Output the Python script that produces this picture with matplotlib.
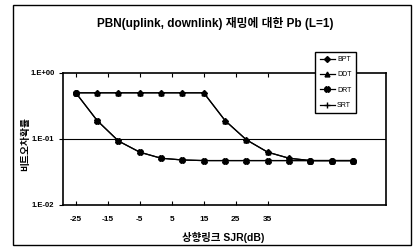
import numpy as np
import matplotlib.pyplot as plt
from matplotlib.patches import Rectangle

plt.rcParams['font.family'] = ['Liberation Sans Narrow', 'Liberation Sans', 'Noto Sans CJK KR']

# 상향링크 SJR (dB) 값과 각 방식의 비트오차확률
sjr = [-25, -20, -15, -10, -5, 0, 5, 10, 15, 20, 25, 30, 35, 40]
bpt = [0.5, 0.5, 0.5, 0.5, 0.5, 0.5, 0.5, 0.19, 0.097, 0.063, 0.051, 0.047, 0.047, 0.047]
ddt = [0.5, 0.5, 0.5, 0.5, 0.5, 0.5, 0.5, 0.19, 0.097, 0.063, 0.051, 0.047, 0.047, 0.047]
drt = [0.5, 0.19, 0.093, 0.063, 0.051, 0.048, 0.047, 0.047, 0.047, 0.047, 0.047, 0.047, 0.047, 0.047]
srt = [0.5, 0.19, 0.093, 0.063, 0.051, 0.048, 0.047, 0.047, 0.047, 0.047, 0.047, 0.047, 0.047, 0.047]
tick_labels = ['-25', '-15', '-5', '5', '15', '25', '35']

fig = plt.figure(figsize=(4.16, 2.49), dpi=100)
ax = fig.add_axes([0.151, 0.177, 0.777, 0.53])

pos = np.arange(len(sjr))
ax.plot(pos, bpt, color='black', lw=0.9, marker='D', ms=3, label='BPT')
ax.plot(pos, ddt, color='black', lw=0.9, marker='^', ms=3.5, label='DDT')
ax.plot(pos, drt, color='black', lw=0.9, marker='X', ms=4, label='DRT')
ax.plot(pos, srt, color='black', lw=0.9, marker='+', ms=4, label='SRT')

ax.set_yscale('log')
ax.set_ylim(1e-2, 1)
ax.set_xlim(-0.61, 14.55)
ax.set_yticks([1e-2, 1e-1, 1])
ax.set_yticklabels(['1.E-02', '1.E-01', '1.E+00'], fontsize=5.5, fontweight='bold')
ax.minorticks_off()
ax.set_xticks(np.arange(len(tick_labels)) * 1.5)
ax.set_xticklabels(tick_labels, fontsize=6, fontweight='bold')
ax.tick_params(axis='x', direction='in', top=True, length=3, pad=8)
ax.tick_params(axis='y', direction='out', length=3, pad=3)
ax.axhline(0.1, color='black', lw=0.8)
for s in ax.spines.values():
    s.set_linewidth(1.2)

fig.text(0.517, 0.905, 'PBN(uplink, downlink) 재밍에 대한 Pb (L=1)',
         ha='center', va='center', fontsize=8.5, fontweight='bold')
fig.text(0.536, 0.048, '상향링크 SJR(dB)', ha='center', va='center', fontsize=7.5, fontweight='bold')
fig.text(0.06, 0.42, '비트오차확률', ha='center', va='center', rotation=90, fontsize=7, fontweight='bold')

fig.legend(loc='upper left', bbox_to_anchor=(0.75, 0.806), fontsize=5,
           handlelength=2.2, labelspacing=1.2, fancybox=False, edgecolor='black',
           framealpha=1, borderpad=0.6, handletextpad=0.3)

fig.patches.append(Rectangle((0.031, 0.016), 0.957, 0.964, transform=fig.transFigure,
                             fill=False, edgecolor='black', lw=1))

fig.savefig('out.png', dpi=100)
